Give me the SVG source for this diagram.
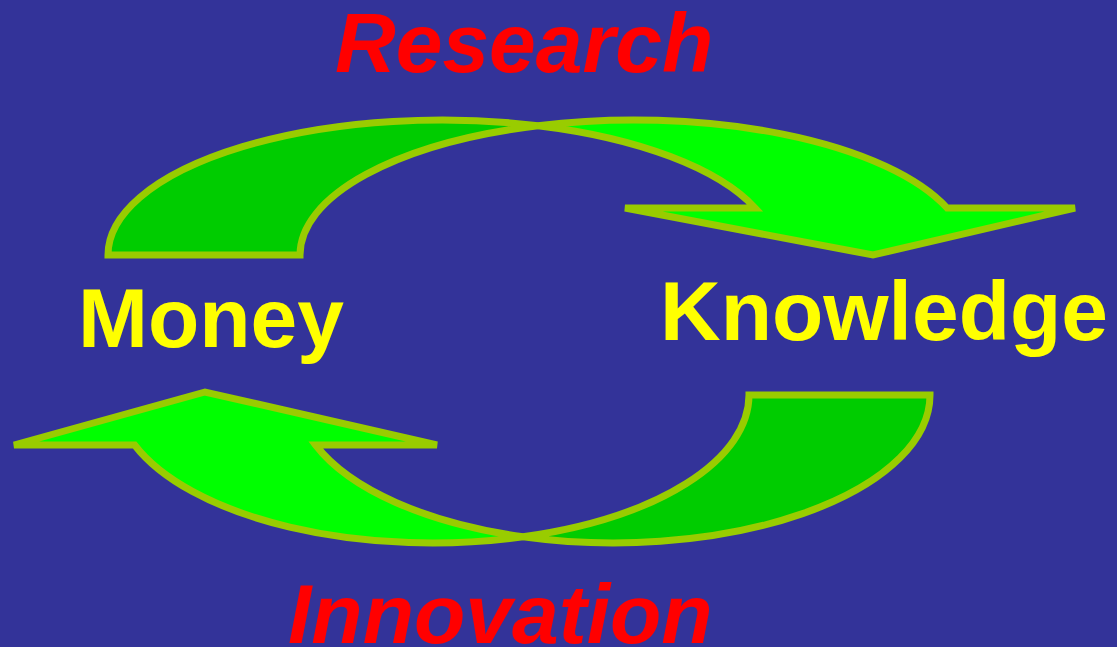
<svg xmlns="http://www.w3.org/2000/svg" width="1117" height="647" viewBox="0 0 1117 647">
<style>
.bg{fill:#333399}
.dark{fill:#00cc00;stroke:#99cc00;stroke-width:7}
.bright{fill:#00ff00;stroke:#99cc00;stroke-width:7}
.red{font-family:"Liberation Sans",Arial,sans-serif;font-weight:bold;font-style:italic;font-size:84px;fill:#ff0000}
.yel{font-family:"Liberation Sans",Arial,sans-serif;font-weight:bold;font-size:84px;fill:#ffff00}
</style>
<rect class="bg" x="0" y="0" width="1117" height="647"/>
<g id="connectors">
<g id="arrow-research">
<path class="dark" d="M108,255 A334,135 0 0 1 538,125.7 A334,135 0 0 0 300,255 Z"/>
<path class="bright" d="M538,125.7 A334,135 0 0 1 947.1,208 L1075,208 L873,255 L625,208 L755.1,208 A334,135 0 0 0 538,125.7 Z"/>
</g>
<g id="arrow-innovation">
<path class="dark" d="M930,395 A316.5,148 0 0 1 523,536.8 A316.5,148 0 0 0 749,395 Z"/>
<path class="bright" d="M523,536.8 A316.5,148 0 0 1 134.6,445 L14,445 L205,392 L437,445 L315.6,445 A316.5,148 0 0 0 523,536.8 Z"/>
</g>
</g>
<g id="research"><text class="red" x="335" y="72">Research</text></g>
<g id="innovation"><text class="red" x="288" y="643">Innovation</text></g>
<g id="money"><text class="yel" x="78" y="347">Money</text></g>
<g id="knowledge"><text class="yel" x="660" y="340">Knowledge</text></g>
</svg>
